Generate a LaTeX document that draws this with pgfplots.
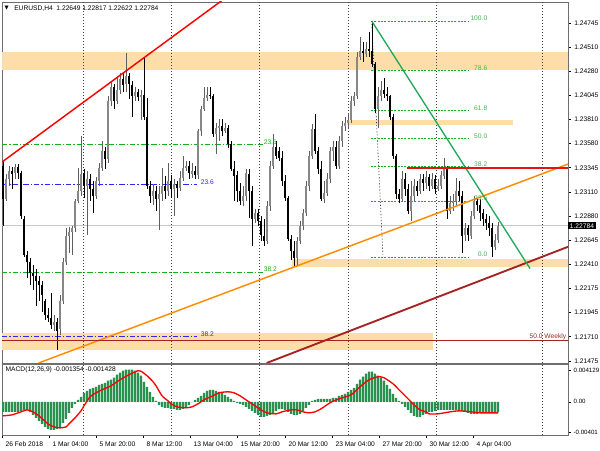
\documentclass[border=0pt]{standalone}
\usepackage{fontspec}
\setmainfont{Liberation Sans}
\newfontfamily\dejavu{DejaVu Sans}
\usepackage{pgfplots}
\pgfplotsset{compat=1.18}
\usepackage{pgfplotstable}

\definecolor{band}{RGB}{253,221,170}
\definecolor{bullc}{RGB}{135,135,135}
\definecolor{bullw}{RGB}{95,95,95}
\definecolor{fibgreen}{RGB}{20,175,30}
\definecolor{fibtxt}{RGB}{80,175,80}
\definecolor{fibblue}{RGB}{40,40,255}
\definecolor{trorange}{RGB}{255,140,0}
\definecolor{trbrown}{RGB}{165,35,35}
\definecolor{trgreen}{RGB}{30,170,90}
\definecolor{macdgreen}{RGB}{40,145,80}
\definecolor{bidgray}{RGB}{200,200,200}
\definecolor{axgray}{RGB}{110,110,110}
\definecolor{resred}{RGB}{225,20,20}

% EURUSD H4: bar index, open, high, low, close
\pgfplotstableread{
i o h l c
0 1.2336 1.2341 1.2278 1.2304
1 1.2304 1.2329 1.2302 1.2324
2 1.2324 1.2336 1.2317 1.2331
3 1.2331 1.2335 1.2314 1.2329
4 1.2329 1.2338 1.2324 1.2335
5 1.2335 1.2338 1.2324 1.2329
6 1.2329 1.2331 1.2285 1.2288
7 1.2285 1.2288 1.2248 1.2250
8 1.2250 1.2254 1.2228 1.2243
9 1.2243 1.2247 1.2221 1.2233
10 1.2233 1.2240 1.2216 1.2230
11 1.2230 1.2237 1.2201 1.2225
12 1.2225 1.2230 1.2206 1.2221
13 1.2221 1.2225 1.2195 1.2211
14 1.2206 1.2208 1.2187 1.2192
15 1.2192 1.2199 1.2185 1.2189
16 1.2189 1.2213 1.2179 1.2182
17 1.2182 1.2192 1.2177 1.2185
18 1.2185 1.2189 1.2158 1.2177
19 1.2179 1.2211 1.2173 1.2206
20 1.2206 1.2247 1.2203 1.2243
21 1.2243 1.2276 1.2240 1.2269
22 1.2269 1.2277 1.2252 1.2272
23 1.2272 1.2278 1.2250 1.2276
24 1.2276 1.2304 1.2272 1.2302
25 1.2302 1.2334 1.2300 1.2312
26 1.2312 1.2365 1.2307 1.2329
27 1.2329 1.2333 1.2305 1.2317
28 1.2317 1.2331 1.2269 1.2324
29 1.2324 1.2329 1.2302 1.2314
30 1.2314 1.2322 1.2291 1.2307
31 1.2307 1.2326 1.2304 1.2322
32 1.2322 1.2339 1.2317 1.2334
33 1.2334 1.2360 1.2331 1.2351
34 1.2351 1.2355 1.2333 1.2343
35 1.2343 1.2404 1.2339 1.2399
36 1.2399 1.2418 1.2394 1.2413
37 1.2413 1.2416 1.2391 1.2399
38 1.2399 1.2423 1.2396 1.2410
39 1.2410 1.2426 1.2406 1.2420
40 1.2420 1.2426 1.2408 1.2415
41 1.2415 1.2445 1.2408 1.2423
42 1.2423 1.2426 1.2401 1.2415
43 1.2415 1.2418 1.2384 1.2404
44 1.2404 1.2413 1.2399 1.2408
45 1.2408 1.2411 1.2399 1.2403
46 1.2403 1.2410 1.2381 1.2405
47 1.2405 1.2442 1.2381 1.2384
48 1.2384 1.2402 1.2314 1.2317
49 1.2317 1.2322 1.2300 1.2307
50 1.2307 1.2319 1.2298 1.2312
51 1.2312 1.2317 1.2293 1.2304
52 1.2304 1.2317 1.2274 1.2309
53 1.2309 1.2334 1.2302 1.2317
54 1.2317 1.2327 1.2304 1.2312
55 1.2312 1.2339 1.2307 1.2322
56 1.2322 1.2328 1.2305 1.2314
57 1.2314 1.2324 1.2288 1.2319
58 1.2319 1.2322 1.2305 1.2315
59 1.2315 1.2331 1.2312 1.2325
60 1.2325 1.2346 1.2322 1.2334
61 1.2334 1.2341 1.2331 1.2336
62 1.2336 1.2341 1.2324 1.2329
63 1.2329 1.2339 1.2325 1.2331
64 1.2331 1.2336 1.2324 1.2327
65 1.2327 1.2372 1.2324 1.2370
66 1.2370 1.2394 1.2365 1.2391
67 1.2391 1.2413 1.2389 1.2402
68 1.2402 1.2413 1.2399 1.2405
69 1.2405 1.2413 1.2401 1.2404
70 1.2404 1.2406 1.2364 1.2367
71 1.2367 1.2378 1.2348 1.2373
72 1.2373 1.2382 1.2360 1.2375
73 1.2375 1.2382 1.2365 1.2370
74 1.2370 1.2378 1.2368 1.2373
75 1.2373 1.2376 1.2354 1.2357
76 1.2357 1.2360 1.2331 1.2333
77 1.2333 1.2341 1.2302 1.2327
78 1.2327 1.2331 1.2301 1.2312
79 1.2312 1.2320 1.2298 1.2302
80 1.2302 1.2317 1.2298 1.2307
81 1.2307 1.2333 1.2302 1.2329
82 1.2329 1.2333 1.2286 1.2312
83 1.2312 1.2317 1.2259 1.2285
84 1.2285 1.2295 1.2281 1.2291
85 1.2291 1.2295 1.2278 1.2283
86 1.2283 1.2288 1.2264 1.2269
87 1.2269 1.2285 1.2259 1.2264
88 1.2264 1.2302 1.2261 1.2298
89 1.2298 1.2341 1.2293 1.2336
90 1.2336 1.2367 1.2333 1.2355
91 1.2355 1.2360 1.2343 1.2346
92 1.2351 1.2355 1.2341 1.2344
93 1.2344 1.2351 1.2317 1.2322
94 1.2322 1.2327 1.2302 1.2305
95 1.2305 1.2307 1.2264 1.2266
96 1.2266 1.2269 1.2245 1.2254
97 1.2254 1.2264 1.2238 1.2247
98 1.2247 1.2268 1.2240 1.2264
99 1.2264 1.2283 1.2261 1.2278
100 1.2278 1.2295 1.2274 1.2291
101 1.2291 1.2322 1.2288 1.2317
102 1.2317 1.2351 1.2312 1.2346
103 1.2346 1.2377 1.2343 1.2372
104 1.2372 1.2387 1.2348 1.2351
105 1.2351 1.2355 1.2329 1.2333
106 1.2333 1.2341 1.2302 1.2304
107 1.2304 1.2322 1.2300 1.2310
108 1.2310 1.2329 1.2307 1.2324
109 1.2324 1.2355 1.2320 1.2351
110 1.2351 1.2360 1.2341 1.2355
111 1.2355 1.2360 1.2333 1.2336
112 1.2336 1.2365 1.2333 1.2360
113 1.2360 1.2380 1.2355 1.2375
114 1.2375 1.2384 1.2370 1.2378
115 1.2378 1.2387 1.2372 1.2381
116 1.2381 1.2404 1.2378 1.2399
117 1.2399 1.2408 1.2394 1.2404
118 1.2404 1.2447 1.2401 1.2442
119 1.2442 1.2461 1.2439 1.2447
120 1.2447 1.2456 1.2437 1.2445
121 1.2445 1.2456 1.2442 1.2449
122 1.2449 1.2466 1.2442 1.2447
123 1.2447 1.2476 1.2432 1.2435
124 1.2435 1.2437 1.2387 1.2391
125 1.2391 1.2413 1.2373 1.2404
126 1.2404 1.2418 1.2399 1.2410
127 1.2410 1.2421 1.2402 1.2406
128 1.2406 1.2413 1.2399 1.2404
129 1.2404 1.2405 1.2381 1.2384
130 1.2384 1.2386 1.2343 1.2346
131 1.2346 1.2348 1.2304 1.2309
132 1.2309 1.2314 1.2300 1.2304
133 1.2304 1.2331 1.2302 1.2324
134 1.2324 1.2329 1.2307 1.2314
135 1.2314 1.2319 1.2290 1.2293
136 1.2293 1.2322 1.2283 1.2307
137 1.2307 1.2324 1.2302 1.2317
138 1.2317 1.2322 1.2307 1.2312
139 1.2312 1.2329 1.2309 1.2324
140 1.2324 1.2329 1.2312 1.2320
141 1.2320 1.2331 1.2314 1.2326
142 1.2326 1.2329 1.2312 1.2317
143 1.2317 1.2329 1.2314 1.2324
144 1.2324 1.2327 1.2309 1.2314
145 1.2314 1.2324 1.2312 1.2317
146 1.2317 1.2331 1.2314 1.2327
147 1.2327 1.2344 1.2324 1.2333
148 1.2333 1.2336 1.2285 1.2293
149 1.2293 1.2307 1.2290 1.2300
150 1.2300 1.2309 1.2293 1.2302
151 1.2302 1.2325 1.2298 1.2312
152 1.2312 1.2322 1.2302 1.2307
153 1.2307 1.2312 1.2252 1.2269
154 1.2269 1.2281 1.2264 1.2276
155 1.2276 1.2279 1.2264 1.2269
156 1.2269 1.2293 1.2266 1.2288
157 1.2288 1.2307 1.2285 1.2302
158 1.2302 1.2305 1.2293 1.2298
159 1.2298 1.2304 1.2283 1.2291
160 1.2291 1.2295 1.2278 1.2285
161 1.2285 1.2290 1.2274 1.2281
162 1.2281 1.2288 1.2269 1.2276
163 1.2276 1.2281 1.2248 1.2258
164 1.2258 1.2270 1.2255 1.2265
165 1.2265 1.2282 1.2262 1.2278
}\candles

% MACD(12,26,9) main line, one value per bar
\pgfplotstableread{
i m
0 -0.00130
1 -0.00130
2 -0.00130
3 -0.00130
4 -0.00130
5 -0.00130
6 -0.00117
7 -0.00104
8 -0.00104
9 -0.00130
10 -0.00169
11 -0.00208
12 -0.00247
13 -0.00286
14 -0.00325
15 -0.00351
16 -0.00364
17 -0.00364
18 -0.00351
19 -0.00325
20 -0.00273
21 -0.00221
22 -0.00143
23 -0.00078
24 -0.00026
25 0.00026
26 0.00065
27 0.00117
28 0.00143
29 0.00169
30 0.00182
31 0.00195
32 0.00221
33 0.00234
34 0.00247
35 0.00273
36 0.00286
37 0.00312
38 0.00351
39 0.00377
40 0.00403
41 0.00416
42 0.00416
43 0.00416
44 0.00403
45 0.00377
46 0.00338
47 0.00260
48 0.00195
49 0.00130
50 0.00065
51 0.00013
52 -0.00039
53 -0.00065
54 -0.00078
55 -0.00078
56 -0.00091
57 -0.00091
58 -0.00104
59 -0.00104
60 -0.00091
61 -0.00065
62 -0.00039
63 -0.00003
64 0.00026
65 0.00052
66 0.00078
67 0.00117
68 0.00143
69 0.00156
70 0.00156
71 0.00143
72 0.00130
73 0.00117
74 0.00091
75 0.00065
76 0.00039
77 0.00013
78 -0.00013
79 -0.00026
80 -0.00039
81 -0.00065
82 -0.00091
83 -0.00117
84 -0.00143
85 -0.00169
86 -0.00195
87 -0.00195
88 -0.00182
89 -0.00169
90 -0.00143
91 -0.00117
92 -0.00091
93 -0.00091
94 -0.00104
95 -0.00130
96 -0.00156
97 -0.00169
98 -0.00169
99 -0.00156
100 -0.00117
101 -0.00078
102 -0.00039
103 0.00013
104 0.00026
105 0.00039
106 0.00039
107 0.00039
108 0.00039
109 0.00039
110 0.00052
111 0.00052
112 0.00078
113 0.00091
114 0.00104
115 0.00130
116 0.00156
117 0.00182
118 0.00234
119 0.00286
120 0.00325
121 0.00364
122 0.00390
123 0.00390
124 0.00364
125 0.00338
126 0.00312
127 0.00273
128 0.00221
129 0.00169
130 0.00104
131 0.00052
132 0.00013
133 -0.00026
134 -0.00065
135 -0.00104
136 -0.00143
137 -0.00182
138 -0.00195
139 -0.00195
140 -0.00169
141 -0.00156
142 -0.00130
143 -0.00130
144 -0.00117
145 -0.00104
146 -0.00104
147 -0.00104
148 -0.00104
149 -0.00104
150 -0.00104
151 -0.00104
152 -0.00104
153 -0.00117
154 -0.00130
155 -0.00143
156 -0.00156
157 -0.00156
158 -0.00156
159 -0.00143
160 -0.00143
161 -0.00130
162 -0.00130
163 -0.00143
164 -0.00137
165 -0.001354
}\macd

\pgfplotsset{
  mtframe/.style={
    scale only axis, width=424.5pt,
    xmin=-0.333, xmax=188.333,
    clip mode=individual,
    axis line style={axgray, line width=0.7pt},
    scaled ticks=false,
    ytick pos=right, yticklabel pos=right,
    tick align=outside, major tick length=2pt,
    tick style={black, line width=0.4pt},
    ticklabel style={font=\fontsize{5}{6}\selectfont},
    yticklabel style={xshift=-0.8pt},
  },
  candle/.style={only marks, mark size=0pt, mark options={draw=none, fill=none}, forget plot},
}
\tikzset{
  gridline/.style={black!75, line width=0.45pt, dash pattern=on 0.75pt off 1.5pt},
  fibdd/.style={line width=0.75pt, dash pattern=on 4pt off 1.5pt on 1pt off 1.5pt},
  fibdot/.style={draw=fibgreen, line width=0.75pt, dash pattern=on 1.5pt off 1pt},
  fiblab/.style={inner sep=0.4pt, font=\fontsize{5}{6}\selectfont},
}

\begin{document}
\begin{tikzpicture}[font=\fontsize{5}{6}\selectfont]
\useasboundingbox[fill=white] (0,0) rectangle (450pt,337.5pt);

% ---------------- price panel ----------------
\begin{axis}[mtframe,
  at={(1.5pt,65.25pt)}, anchor=south west, height=270.75pt,
  ymin=1.21456, ymax=1.24948,
  xtick=\empty,
  ytick={1.24745,1.24510,1.24280,1.24045,1.23810,1.23580,1.23345,1.23110,1.22880,1.22645,1.22410,1.22175,1.21945,1.21710,1.21475},
  yticklabels={1.24745,1.24510,1.24280,1.24045,1.23810,1.23580,1.23345,1.23110,1.22880,1.22645,1.22410,1.22175,1.21945,1.21710,1.21475},
]
% support / resistance zones
\addplot[fill=band, draw=none, forget plot] coordinates {(-0.333,1.2429) (188.333,1.2429) (188.333,1.2446) (-0.333,1.2446)} -- cycle;
\addplot[fill=band, draw=none, forget plot] coordinates {(114.67,1.2376) (170,1.2376) (170,1.2381) (114.67,1.2381)} -- cycle;
\addplot[fill=band, draw=none, forget plot] coordinates {(96.33,1.2238) (188.333,1.2238) (188.333,1.2246) (96.33,1.2246)} -- cycle;
\addplot[fill=band, draw=none, forget plot] coordinates {(-0.333,1.2158) (143.33,1.2158) (143.33,1.2175) (-0.333,1.2175)} -- cycle;

% time grid
\pgfplotsinvokeforeach{26.667,56,85.333,115,144.333,179.667}{
  \draw[gridline] (axis cs:#1,1.21456) -- (axis cs:#1,1.24948);
}

% bid line
\addplot[draw=bidgray, line width=0.75pt, forget plot] coordinates {(-0.333,1.22784) (188.333,1.22784)};

% left Fibonacci levels
\addplot[fibdd, draw=fibgreen, forget plot] coordinates {(-0.333,1.23565) (86.67,1.23565)};
\addplot[fibdd, draw=fibgreen, forget plot] coordinates {(-0.333,1.22336) (86.67,1.22336)};
\addplot[fibdd, draw=fibblue, forget plot] coordinates {(-0.333,1.23178) (64.67,1.23178)};
\addplot[fibdd, draw=fibblue, forget plot] coordinates {(-0.333,1.21708) (64.67,1.21708)};

% right Fibonacci retracement
\addplot[fibdot, forget plot] coordinates {(122.67,1.24764) (155,1.24764)};
\addplot[fibdot, forget plot] coordinates {(122.67,1.24281) (155,1.24281)};
\addplot[fibdot, forget plot] coordinates {(122.67,1.23894) (155,1.23894)};
\addplot[fibdot, forget plot] coordinates {(122.67,1.23623) (155,1.23623)};
\addplot[fibdot, forget plot] coordinates {(122.67,1.23352) (155,1.23352)};
\addplot[fibdot, forget plot] coordinates {(122.67,1.23023) (155,1.23023)};
\addplot[fibdot, forget plot] coordinates {(122.67,1.22481) (155,1.22481)};
\addplot[draw=black!80, line width=0.5pt, dash pattern=on 0.8pt off 1.5pt, forget plot] coordinates {(122.9,1.24764) (126.67,1.22481)};

% candles: wicks
\addplot[candle,
  y filter/.expression={\thisrow{c}<\thisrow{o} ? nan : y},
  error bars/.cd, y dir=both, y explicit, error mark=none,
  error bar style={line width=0.6pt, draw=bullw}]
  table[x=i, y expr={(\thisrow{h}+\thisrow{l})/2}, y error expr={(\thisrow{h}-\thisrow{l})/2}] {\candles};
\addplot[candle,
  y filter/.expression={\thisrow{c}<\thisrow{o} ? y : nan},
  error bars/.cd, y dir=both, y explicit, error mark=none,
  error bar style={line width=0.6pt, draw=black}]
  table[x=i, y expr={(\thisrow{h}+\thisrow{l})/2}, y error expr={(\thisrow{h}-\thisrow{l})/2}] {\candles};
% candles: bodies
\addplot[candle,
  y filter/.expression={\thisrow{c}<\thisrow{o} ? nan : y},
  error bars/.cd, y dir=both, y explicit, error mark=none,
  error bar style={line width=1.6pt, draw=bullc}]
  table[x=i, y expr={(\thisrow{o}+\thisrow{c})/2}, y error expr={max(abs(\thisrow{c}-\thisrow{o})/2,0.00003)}] {\candles};
\addplot[candle,
  y filter/.expression={\thisrow{c}<\thisrow{o} ? y : nan},
  error bars/.cd, y dir=both, y explicit, error mark=none,
  error bar style={line width=1.6pt, draw=black}]
  table[x=i, y expr={(\thisrow{o}+\thisrow{c})/2}, y error expr={max(abs(\thisrow{c}-\thisrow{o})/2,0.00003)}] {\candles};

% trend lines
\addplot[draw=red, line width=1.1pt, forget plot] coordinates {(-0.333,1.2340) (75.67,1.2502)};
\addplot[draw=trorange, line width=1.1pt, forget plot] coordinates {(11.87,1.21456) (188.333,1.2338)};
\addplot[draw=trbrown, line width=1.4pt, forget plot] coordinates {(87.87,1.21456) (188.333,1.2258)};
\addplot[draw=trgreen, line width=1pt, forget plot] coordinates {(122.9,1.24764) (175.67,1.2237)};
\addplot[draw=resred, line width=1.5pt, forget plot] coordinates {(134.57,1.23347) (188.333,1.23347)};
\addplot[draw=trbrown, line width=0.75pt, forget plot] coordinates {(-0.333,1.21669) (188.333,1.21669)};

% labels
\node[fiblab, anchor=south west, text=fibgreen] at (axis cs:86.67,1.23565) {23.6};
\node[fiblab, anchor=south west, text=fibgreen] at (axis cs:86.67,1.22336) {38.2};
\node[fiblab, anchor=south west, text=fibblue] at (axis cs:65.67,1.23178) {23.6};
\node[fiblab, anchor=south west, text=fibblue] at (axis cs:65.67,1.21708) {38.2};
\node[fiblab, anchor=south east, text=fibtxt] at (axis cs:161.67,1.24764) {100.0};
\node[fiblab, anchor=south east, text=fibtxt] at (axis cs:161.67,1.24281) {78.6};
\node[fiblab, anchor=south east, text=fibtxt] at (axis cs:161.67,1.23894) {61.8};
\node[fiblab, anchor=south east, text=fibtxt] at (axis cs:161.67,1.23623) {50.0};
\node[fiblab, anchor=south east, text=fibtxt] at (axis cs:161.67,1.23352) {38.2};
\node[fiblab, anchor=south east, text=fibtxt] at (axis cs:161.67,1.23023) {23.6};
\node[fiblab, anchor=south east, text=fibtxt] at (axis cs:161.67,1.22481) {0.0};
\node[fiblab, anchor=south east, text=trbrown] at (axis cs:188.0,1.21669) {50.0 Weekly};

\node[anchor=west, inner sep=0] at (rel axis cs:0.004,0.983) {\dejavu\fontsize{4}{5}\selectfont ▼};
\node[anchor=west, inner sep=0] at (rel axis cs:0.0212,0.983) {EURUSD,H4\ \ 1.22649 1.22817 1.22622 1.22784};
\node[anchor=west, fill=black, text=white, inner xsep=1.2pt, inner ysep=0.9pt] at (axis cs:188.333,1.22784) {1.22784};
\end{axis}

% ---------------- MACD panel ----------------
\begin{axis}[mtframe,
  at={(1.5pt,11.25pt)}, anchor=south west, height=53.25pt,
  ymin=-0.0043, ymax=0.0049,
  xtick={-0.333,15.333,31,46.667,62.333,78,94,109.667,125.333,141,156.667},
  xticklabels={26 Feb 2018,1 Mar 04:00,5 Mar 20:00,8 Mar 12:00,13 Mar 04:00,15 Mar 20:00,20 Mar 12:00,23 Mar 04:00,27 Mar 20:00,30 Mar 12:00,4 Apr 04:00},
  xtick pos=bottom, xticklabel style={anchor=north west, xshift=-0.8pt, yshift=0.5pt},
  ytick={0.004129,0,-0.00401},
  yticklabels={0.004129,0.00,-0.00401},
  yticklabel style={font=\fontsize{4.6}{5.5}\selectfont, xshift=-0.5pt},
]
\pgfplotsinvokeforeach{26.667,56,85.333,115,144.333,179.667}{
  \draw[gridline] (axis cs:#1,-0.0043) -- (axis cs:#1,0.0049);
}
\addplot[ybar, bar width=0.68, bar shift=0pt, fill=macdgreen, draw=none, forget plot]
  table[x=i, y=m] {\macd};
\addplot[draw=red, line width=1pt, smooth, tension=0.4, forget plot] coordinates {
 (0,-0.00182) (3,-0.00169) (6,-0.00130) (8,-0.00104) (10,-0.00130) (12,-0.00182)
 (15,-0.00286) (17,-0.00325) (19,-0.00338) (21,-0.00325) (22,-0.00286) (24,-0.00208)
 (26,-0.00117) (27,-0.00052) (29,0.00065) (31,0.00117) (33,0.00156) (36,0.00208)
 (39,0.00286) (42,0.00351) (45,0.00403) (46,0.00397) (48,0.00338) (50,0.00260)
 (51,0.00208) (53,0.00078) (55,0.00013) (56,-0.00026) (58,-0.00065) (61,-0.00078)
 (63,-0.00065) (65,-0.00026) (67,0.00026) (70,0.00078) (72,0.00117) (75,0.00130)
 (77,0.00117) (79,0.00078) (81,0.00026) (83,-0.00026) (86,-0.00104) (88,-0.00143)
 (91,-0.00156) (93,-0.00130) (96,-0.00104) (98,-0.00104) (100,-0.00130) (102,-0.00143)
 (104,-0.00130) (106,-0.00091) (107,-0.00065) (109,-0.00013) (112,0.00039) (116,0.00091)
 (119,0.00195) (122,0.00286) (125,0.00325) (127,0.00312) (130,0.00234) (132,0.00156)
 (134,0.00078) (136,0.00000) (137,-0.00039) (139,-0.00104) (141,-0.00130) (142,-0.00156)
 (145,-0.00156) (149,-0.00130) (152,-0.00117) (156,-0.00130) (159,-0.00143) (162,-0.00143)
 (165,-0.001428)
};
\node[anchor=west, inner sep=0] at (rel axis cs:0.006,0.92) {MACD(12,26,9) -0.001354 -0.001428};
\end{axis}
\end{tikzpicture}
\end{document}
